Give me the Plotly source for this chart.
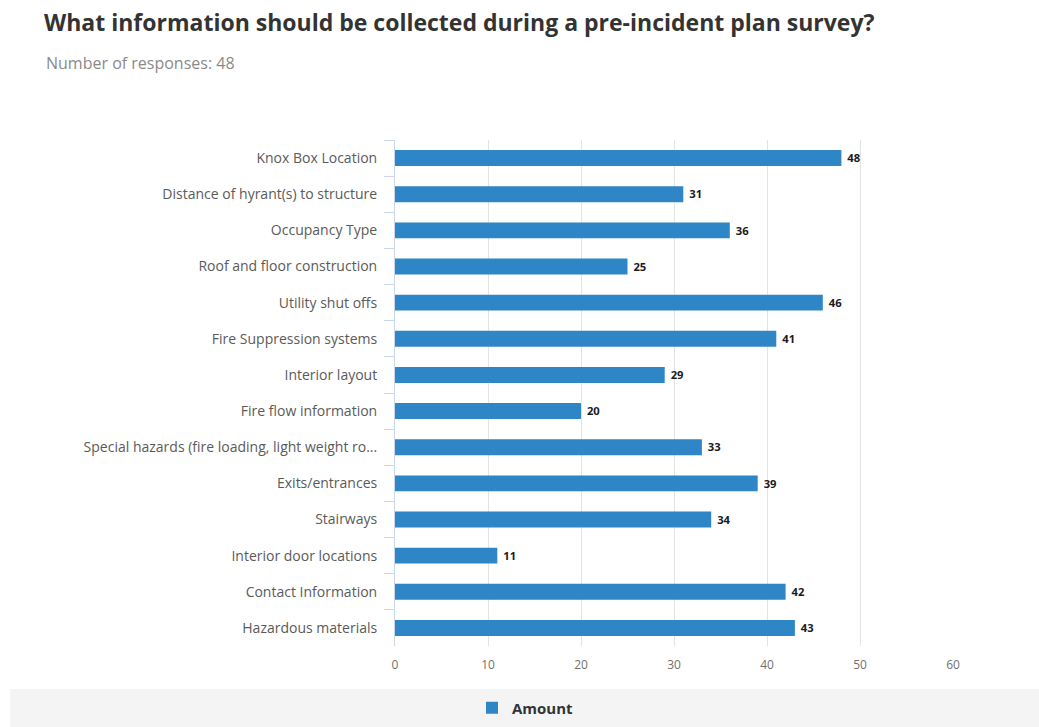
import plotly.graph_objects as go

categories = [
    "Knox Box Location",
    "Distance of hyrant(s) to structure",
    "Occupancy Type",
    "Roof and floor construction",
    "Utility shut offs",
    "Fire Suppression systems",
    "Interior layout",
    "Fire flow information",
    "Special hazards (fire loading, light weight ro...",
    "Exits/entrances",
    "Stairways",
    "Interior door locations",
    "Contact Information",
    "Hazardous materials",
]
amounts = [48, 31, 36, 25, 46, 41, 29, 20, 33, 39, 34, 11, 42, 43]
x_ticks = [0, 10, 20, 30, 40, 50, 60]

BAR = "#2f86c6"
FONT = "Open Sans, Noto Sans, sans-serif"

fig = go.Figure()
fig.add_trace(go.Bar(
    y=categories,
    x=amounts,
    orientation="h",
    name="<b>Amount</b>",
    marker=dict(color=BAR, line=dict(width=0)),
    width=0.44,
    text=[f"\u00a0<b>{v}</b>" for v in amounts],
    textposition="outside",
    textfont=dict(family=FONT, size=12, color="#1a1a1a"),
    cliponaxis=False,
    showlegend=True,
))

W, H = 1039, 727
L, R, T, B = 395, 86, 140, 81
pw, ph = W - L - R, H - T - B


def px_x(v):
    return (v - L) / pw


def px_y(v):
    return (H - B - v) / ph


# grey legend band along the bottom
fig.add_shape(
    type="rect", xref="paper", yref="paper",
    x0=px_x(10), x1=px_x(1039), y0=px_y(689), y1=px_y(727),
    fillcolor="#f4f4f4", line=dict(width=0), layer="below",
)

fig.update_layout(
    width=W, height=H,
    margin=dict(l=L, r=R, t=T, b=B, autoexpand=False),
    paper_bgcolor="white",
    plot_bgcolor="white",
    font=dict(family=FONT),
    title=dict(
        text="<b>What information should be collected during a pre-incident plan survey?</b>",
        x=44 / W, xanchor="left", y=1 - 23 / H, yanchor="middle",
        font=dict(family=FONT, size=23, color="#333333"),
    ),
    annotations=[dict(
        text="Number of responses: 48",
        xref="paper", yref="paper",
        x=px_x(44), y=px_y(63), xanchor="left", yanchor="middle",
        showarrow=False,
        font=dict(family=FONT, size=16, color="#8a8a8a"),
    )],
    legend=dict(
        orientation="h",
        x=px_x(472), y=px_y(708), xanchor="left", yanchor="middle",
        bgcolor="rgba(0,0,0,0)",
        font=dict(family=FONT, size=15, color="#333333"),
        itemclick=False,
    ),
    showlegend=True,
)

fig.update_xaxes(
    range=[0, 60],
    tickvals=x_ticks,
    showgrid=True, gridcolor="#e3e3e3", gridwidth=1,
    zeroline=False,
    showline=False,
    ticks="",
    tickfont=dict(family=FONT, size=12, color="#707070"),
    ticklabelstandoff=10,
)
fig.update_yaxes(
    categoryorder="array",
    categoryarray=categories,
    autorange="reversed",
    showline=True, linecolor="#ccd6eb", linewidth=1,
    ticks="outside", tickson="boundaries", ticklen=10, tickcolor="#ccd6eb",
    showgrid=False,
    tickfont=dict(family=FONT, size=14, color="#5a5a5a"),
    ticklabelstandoff=14,
)

fig.write_html("out.html")
